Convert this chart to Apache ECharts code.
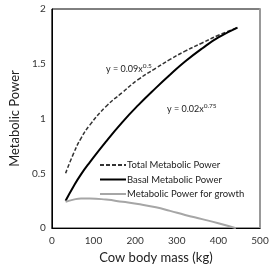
<!DOCTYPE html>
<html><head><meta charset="utf-8">
<script src="https://cdn.jsdelivr.net/npm/echarts@6/dist/echarts.min.js"></script>
<style>html,body{margin:0;padding:0;background:#fff}#c{width:274px;height:269px}</style>
</head><body><div id="c"></div>
<script>
var mass = [33, 52, 70, 91, 130, 170, 207, 250, 284, 320, 361, 400, 446];
var totalPower = [0.50, 0.68, 0.82, 0.94, 1.11, 1.24, 1.355, 1.46, 1.54, 1.615, 1.69, 1.76, 1.83];
var basalPower = [0.25, 0.38, 0.49, 0.60, 0.79, 0.97, 1.12, 1.28, 1.40, 1.52, 1.64, 1.74, 1.83];
var massGrowth = [33, 52, 70, 91, 130, 170, 207, 250, 284, 320, 361, 400, 442];
var growthPower = [0.24, 0.26, 0.27, 0.27, 0.26, 0.24, 0.22, 0.19, 0.157, 0.12, 0.082, 0.045, 0.0];
var seriesNames = ['Total Metabolic Power', 'Basal Metabolic Power', 'Metabolic Power for growth'];
var xTicks = [0, 100, 200, 300, 400, 500];
var yTicks = [0, 0.5, 1, 1.5, 2];

function pairs(xs, ys) { return xs.map(function (x, i) { return [x, ys[i]]; }); }
var font = 'Lato, "Liberation Sans", sans-serif';
var chart = echarts.init(document.getElementById('c'), null, {renderer: 'canvas'});
chart.setOption({
  animation: false,
  grid: {left: 44, right: 14, top: 9, bottom: 40, show: true, borderColor: '#000', borderWidth: 1},
  xAxis: {
    type: 'value', min: xTicks[0], max: xTicks[xTicks.length - 1], interval: 100,
    name: 'Cow body mass (kg)', nameLocation: 'middle', nameGap: 22,
    nameTextStyle: {fontFamily: font, fontSize: 13, color: '#222'},
    axisLine: {show: true, lineStyle: {color: '#000', width: 1}},
    axisTick: {show: false}, splitLine: {show: false},
    axisLabel: {fontFamily: font, fontSize: 10, color: '#333', margin: 8}
  },
  yAxis: [{
    type: 'value', min: yTicks[0], max: yTicks[yTicks.length - 1], interval: 0.5,
    name: 'Metabolic Power', nameLocation: 'middle', nameGap: 26,
    nameTextStyle: {fontFamily: font, fontSize: 13, color: '#222'},
    axisLine: {show: true, lineStyle: {color: '#000', width: 1}},
    axisTick: {show: false}, splitLine: {show: false},
    axisLabel: {fontFamily: font, fontSize: 10, color: '#333', margin: 6}
  }, {
    type: 'value', min: 0, max: 2, position: 'right',
    axisLine: {show: true, lineStyle: {color: '#999', width: 2}},
    axisTick: {show: false}, axisLabel: {show: false}, splitLine: {show: false}
  }],
  legend: {
    orient: 'vertical', left: 94, top: 155, itemWidth: 26, itemHeight: 10, itemGap: 4.5,
    itemStyle: {opacity: 0},
    textStyle: {fontFamily: font, fontSize: 9.5, color: '#222', padding: [0, 0, 0, -4]},
    data: seriesNames
  },
  series: [
    {name: seriesNames[0], type: 'line', symbol: 'none', smooth: true, data: pairs(mass, totalPower),
     lineStyle: {color: '#333', width: 1.5, type: [4, 2]}, itemStyle: {color: '#333'}},
    {name: seriesNames[1], type: 'line', symbol: 'none', smooth: true, data: pairs(mass, basalPower),
     lineStyle: {color: '#000', width: 2}, itemStyle: {color: '#000'}},
    {name: seriesNames[2], type: 'line', symbol: 'none', smooth: true, data: pairs(massGrowth, growthPower),
     lineStyle: {color: '#a6a6a6', width: 2}, itemStyle: {color: '#a6a6a6'}}
  ],
  graphic: [
    {type: 'text', left: 106, top: 62, style: {
      text: '{b|y = 0.09x}{s|0.5}', rich: {
        b: {fontFamily: font, fontSize: 9, fill: '#222', verticalAlign: 'bottom'},
        s: {fontFamily: font, fontSize: 6.5, fill: '#222', verticalAlign: 'top', padding: [0, 0, 5, 0]}
      }}},
    {type: 'text', left: 167, top: 102, style: {
      text: '{b|y = 0.02x}{s|0.75}', rich: {
        b: {fontFamily: font, fontSize: 9, fill: '#222', verticalAlign: 'bottom'},
        s: {fontFamily: font, fontSize: 6.5, fill: '#222', verticalAlign: 'top', padding: [0, 0, 5, 0]}
      }}}
  ]
});
</script></body></html>
